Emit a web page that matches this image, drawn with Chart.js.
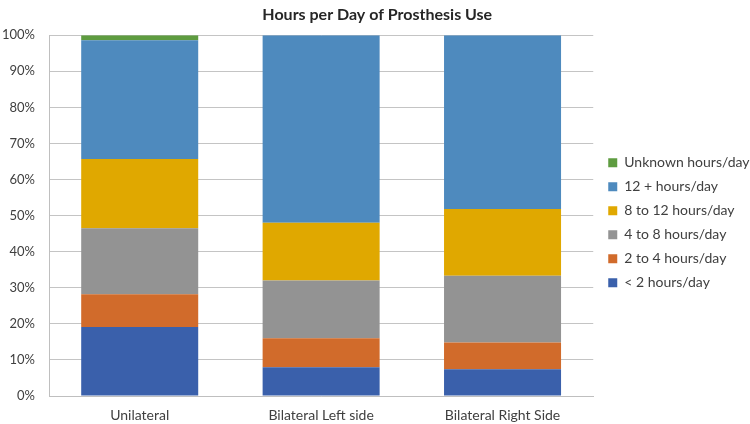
<!DOCTYPE html>
<html>
<head>
<meta charset="utf-8">
<script src="https://cdn.jsdelivr.net/npm/chart.js@4/dist/chart.umd.min.js"></script>
<style>
    html, body { margin: 0; padding: 0; background: #ffffff; }
    #box { width: 750px; height: 424px; position: relative; }
</style>
</head>
<body>
<div id="box"><canvas id="grafico"></canvas></div>
<script>
"use strict";

/********************************************************************
 * Dados (percentual por grupo)
 ********************************************************************/
const categorias = ["Unilateral", "Bilateral Left side", "Bilateral Right Side"];

const menos2h   = [19.1, 8.0, 7.4];
const de2a4h    = [9.1, 8.0, 7.4];
const de4a8h    = [18.3, 16.0, 18.5];
const de8a12h   = [19.2, 16.0, 18.5];
const mais12h   = [32.9, 52.0, 48.2];
const semInfo   = [1.4, 0, 0];

const rotulos = [
    "< 2 hours/day",
    "2 to 4 hours/day",
    "4 to 8 hours/day",
    "8 to 12 hours/day",
    "12 + hours/day",
    "Unknown hours/day"
];

const cores = ["#3A60AB", "#D16B2B", "#939393", "#E0A800", "#4E8ABE", "#5E9C40"];

const fonte = "Lato, 'Open Sans', sans-serif";

/********************************************************************
 * Empurra a legenda um pouco para a direita
 ********************************************************************/
const ajusteLegenda = {
    id: "ajusteLegenda",
    afterLayout(chart) {
        if (!chart.legend) return;
        chart.legend.left += 5;
        chart.legend.right += 5;
    }
};

/********************************************************************
 * Gráfico
 ********************************************************************/
const series = [menos2h, de2a4h, de4a8h, de8a12h, mais12h, semInfo];

const datasets = series.map((valores, i) => ({
    label: rotulos[i],
    data: valores,
    backgroundColor: cores[i],
    borderWidth: 0,
    categoryPercentage: 1,
    barPercentage: 0.645
}));

new Chart(document.getElementById("grafico"), {

    type: "bar",

    data: {
        labels: categorias,
        datasets: datasets
    },

    plugins: [ajusteLegenda],

    options: {

        responsive: true,
        maintainAspectRatio: false,
        animation: false,

        layout: {
            padding: { left: 0, right: -4.5, top: 0, bottom: 0 }
        },

        plugins: {

            title: {
                display: true,
                text: "Hours per Day of Prosthesis Use",
                color: "#262626",
                font: { family: fonte, size: 16, weight: "bold" },
                padding: { top: 5, bottom: 11 }
            },

            legend: {
                position: "right",
                reverse: true,
                title: {
                    display: true,
                    text: " ",
                    padding: { top: 0, bottom: 6 },
                    font: { size: 13 }
                },
                labels: {
                    boxWidth: 9,
                    boxHeight: 9,
                    padding: 10,
                    color: "#404040",
                    font: { family: fonte, size: 14 }
                }
            },

            tooltip: { enabled: false }

        },

        scales: {

            x: {
                stacked: true,
                afterFit: escala => { escala.height = 28; },
                grid: { display: false, drawTicks: false },
                border: { display: true, color: "#BFBFBF", width: 1 },
                ticks: {
                    color: "#404040",
                    padding: 11,
                    font: { family: fonte, size: 14 }
                }
            },

            y: {
                stacked: true,
                min: 0,
                max: 100,
                afterFit: escala => { escala.width = 49; },
                grid: { color: "#C4C4C4", lineWidth: 1, drawTicks: false },
                border: { display: true, color: "#BFBFBF", width: 1 },
                ticks: {
                    stepSize: 10,
                    color: "#404040",
                    padding: 14,
                    font: { family: fonte, size: 13 },
                    callback: v => v + "%"
                }
            }

        }

    }

});
</script>
</body>
</html>
